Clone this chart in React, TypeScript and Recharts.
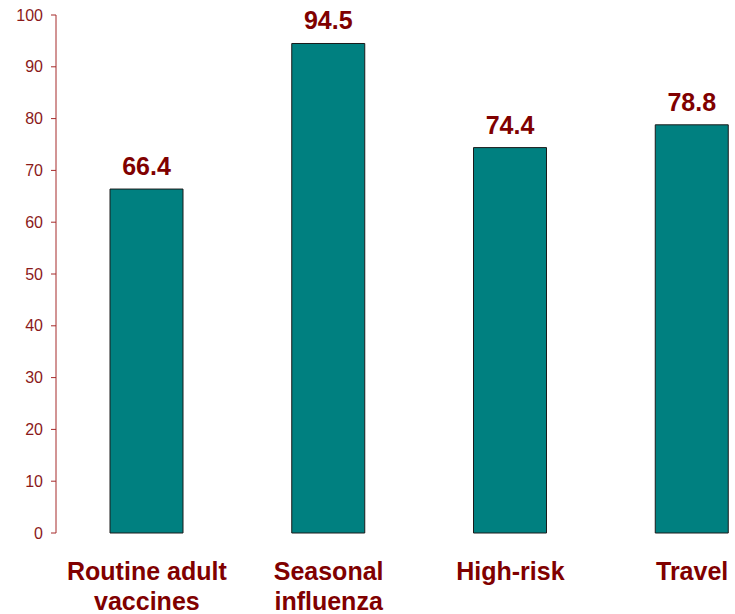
import React from 'react';
import { BarChart, Bar, XAxis, YAxis, LabelList } from 'recharts';

// vaccine category labels, split where they wrap
const categories = ['Routine adult\nvaccines', 'Seasonal\ninfluenza', 'High-risk', 'Travel'];
const percentages = [66.4, 94.5, 74.4, 78.8];
const yTicks = [0, 10, 20, 30, 40, 50, 60, 70, 80, 90, 100];

const data = categories.map((name, i) => ({ name, value: percentages[i] }));

const DARK_RED = '#800000';
const font = 'Arial, "Liberation Sans", sans-serif';

function CategoryTick(props: any) {
  const { x, y, payload } = props;
  const lines = String(payload.value).split('\n');
  return (
    <text
      x={x}
      y={y}
      textAnchor="middle"
      fill={DARK_RED}
      fontFamily={font}
      fontWeight="bold"
      fontSize={25}
    >
      {lines.map((line, i) => (
        <tspan key={line} x={x} dy={i === 0 ? 39 : 30}>
          {line}
        </tspan>
      ))}
    </text>
  );
}

export default function App() {
  return (
    <div style={{ position: 'absolute', left: 0, top: 0, width: 735, height: 614, overflow: 'hidden', background: '#fff' }}>
      <BarChart
        width={783}
        height={614}
        data={data}
        margin={{ top: 15, right: 0, bottom: 0, left: 0 }}
      >
        <XAxis
          dataKey="name"
          axisLine={false}
          tickLine={false}
          height={81}
          interval={0}
          tick={<CategoryTick />}
        />
        <YAxis
          domain={[0, 100]}
          ticks={yTicks}
          width={56}
          interval={0}
          axisLine={{ stroke: '#A52A2A', strokeWidth: 1 }}
          tickLine={{ stroke: '#A52A2A' }}
          tickSize={5}
          tickMargin={8}
          tick={{ fill: '#8B1A1A', fontSize: 16, fontFamily: font }}
        />
        <Bar dataKey="value" fill="#008080" stroke="#1a1a1a" strokeWidth={1} barSize={73} isAnimationActive={false}>
          <LabelList
            dataKey="value"
            position="top"
            offset={14}
            fill={DARK_RED}
            fontFamily={font}
            fontWeight="bold"
            fontSize={25}
          />
        </Bar>
      </BarChart>
    </div>
  );
}
